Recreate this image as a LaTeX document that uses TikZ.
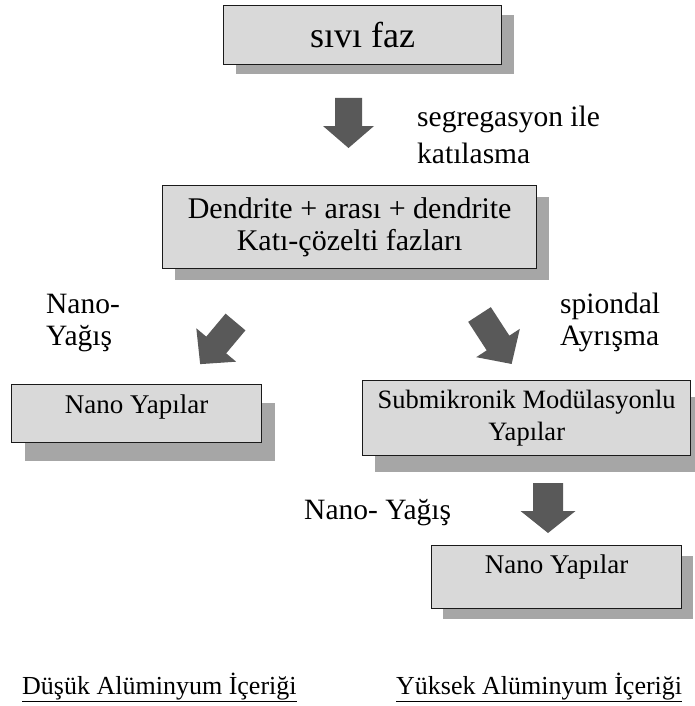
\documentclass[tikz,border=0pt]{standalone}
\usepackage{fontspec}
\setmainfont{Liberation Serif}
\usetikzlibrary{shadows}

\definecolor{boxfill}{HTML}{D9D9D9}
\definecolor{shadowfill}{HTML}{A6A6A6}
\definecolor{arrowfill}{HTML}{595959}
\definecolor{edgeline}{HTML}{1A1A1A}

\tikzset{
  % grey box with a flat offset shadow (shadow x / y offset as arguments)
  sbox/.style 2 args={draw=edgeline, line width=1.3pt, fill=boxfill,
    inner sep=0pt, align=center, anchor=north west,
    drop shadow={shadow xshift=#1, shadow yshift=-#2, fill=shadowfill, opacity=1}},
  lbl/.style={inner sep=0pt, align=left, font=\fontsize{29.5}{34}\selectfont},
  % thick block arrow: length / half body width / half head width / head length
  pics/blockarrow/.style args={#1/#2/#3/#4}{code={
    \fill[arrowfill] (-#2,0) -- (-#2,{#1-#4}) -- (-#3,{#1-#4}) -- (0,#1)
      -- (#3,{#1-#4}) -- (#2,{#1-#4}) -- (#2,0) -- cycle;
  }}
}

\begin{document}
\begin{tikzpicture}[x=1pt, y=-1pt]
\useasboundingbox (0,0) rectangle (694,706);

% boxes
\node[sbox={12pt}{9pt}, minimum width=278pt, minimum height=59pt,
      font=\fontsize{36}{40}\selectfont] (liquid) at (223,5) {sıvı faz};
\node[sbox={12pt}{11pt}, minimum width=374pt, minimum height=83pt,
      font=\fontsize{30}{32}\selectfont] (dendrite) at (162,185)
      {Dendrite + arası + dendrite\\Katı-çözelti fazları};
\node[sbox={13pt}{18pt}, minimum width=250pt, minimum height=58pt,
      text height=29pt, text depth=29pt,
      font=\fontsize{27}{30}\selectfont] (nanoL) at (11,384) {Nano Yapılar};
\node[sbox={12pt}{16pt}, minimum width=328pt, minimum height=75pt,
      font=\fontsize{26.5}{32}\selectfont] (submicro) at (362,380)
      {Submikronik Modülasyonlu\\Yapılar};
\node[sbox={11pt}{10pt}, minimum width=250pt, minimum height=63pt,
      text height=28pt, text depth=35pt,
      font=\fontsize{27}{30}\selectfont] (nanoR) at (431,545) {Nano Yapılar};

% block arrows
\coordinate (a1) at (348.5,98);
\coordinate (a2) at (235.5,322);
\coordinate (a3) at (479.5,314.5);
\coordinate (a4) at (548,483);
\pic at (a1) {blockarrow=50/13.5/25.5/22};
\pic[rotate=-40] at (a2) {blockarrow=55/13/26/25};
\pic[rotate=33] at (a3) {blockarrow=59/13.5/26/25};
\pic at (a4) {blockarrow=50/15/27.5/22};

% arrow labels (base anchor sits on the last line)
\node[lbl, anchor=base west, font=\fontsize{29.5}{36}\selectfont] (segr) at (417,163)
  {segregasyon ile\\katılasma};
\node[lbl, anchor=base west, font=\fontsize{29.5}{32}\selectfont] (nanoprecL) at (46,345)
  {Nano-\\Yağış};
\node[lbl, anchor=base west, font=\fontsize{29.5}{32}\selectfont] (spinodal) at (560,345)
  {spiondal\\Ayrışma};
\node[lbl, anchor=base west] (nanoprecR) at (304,519) {Nano- Yağış};

% content headings
\node[inner sep=0pt, anchor=base west, font=\fontsize{26}{30}\selectfont] (lowAl) at (22,694)
  {\underline{Düşük Alüminyum İçeriği}};
\node[inner sep=0pt, anchor=base west, font=\fontsize{26}{30}\selectfont] (highAl) at (396,694)
  {\underline{Yüksek Alüminyum İçeriği}};
\end{tikzpicture}
\end{document}
